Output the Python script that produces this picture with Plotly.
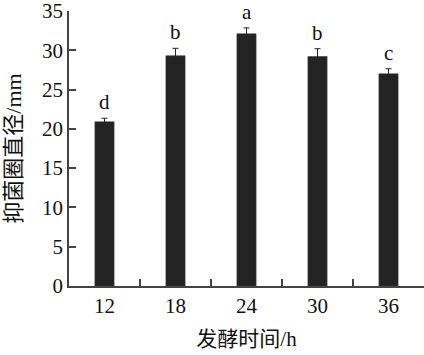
import plotly.graph_objects as go

categories = ["12", "18", "24", "30", "36"]
values = [20.9, 29.3, 32.1, 29.2, 27.0]
errors = [0.45, 0.95, 0.75, 1.0, 0.65]
letters = ["d", "b", "a", "b", "c"]

FONT = "Liberation Serif"
CJK = "Liberation Serif, Noto Sans CJK SC"

fig = go.Figure()
fig.add_trace(go.Bar(
    x=categories, y=values,
    marker=dict(color="#232323", line=dict(color="#3a3a3a", width=0.6)),
    error_y=dict(type="data", array=errors, visible=True, color="#222222",
                 thickness=1, width=3),
))

for i, (v, e, t) in enumerate(zip(values, errors, letters)):
    fig.add_annotation(x=i, y=v + e, text=t, showarrow=False,
                       xref="x", yref="y",
                       yanchor="bottom", yshift=2,
                       font=dict(family=FONT, size=21, color="#111111"))

fig.update_layout(
    width=424, height=355,
    margin=dict(l=69, r=0, t=11, b=69),
    paper_bgcolor="white", plot_bgcolor="white",
    showlegend=False,
    font=dict(family=FONT, size=20, color="#111111"),
    bargap=0.73,
)
fig.update_xaxes(
    type="category", range=[-0.5, 4.5],
    showline=True, linecolor="#444444", linewidth=1.5,
    ticks="inside", tickson="boundaries", ticklen=7, tickcolor="#444444", tickwidth=1.5,
    showgrid=False, tickangle=0, ticklabelstandoff=0,
    title=dict(text="发酵时间/h", font=dict(family=CJK, size=21), standoff=14),
    tickfont=dict(family=FONT, size=21),
)
fig.update_yaxes(
    range=[0, 35], dtick=5, tick0=0,
    showline=True, linecolor="#444444", linewidth=1.5,
    ticks="inside", ticklen=7, tickcolor="#444444", tickwidth=1.5,
    showgrid=False, zeroline=False, ticklabeloverflow="allow",
    title=dict(text="抑菌圈直径/mm", font=dict(family=CJK, size=22), standoff=14),
    tickfont=dict(family=FONT, size=21),
)

fig.write_html("out.html")
